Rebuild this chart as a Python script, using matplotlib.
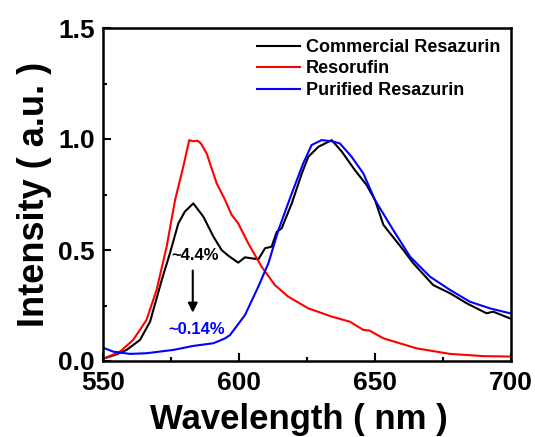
import matplotlib
matplotlib.use("Agg")
import matplotlib.pyplot as plt
from matplotlib.ticker import MultipleLocator

plt.rcParams['font.family'] = ['Liberation Sans', 'DejaVu Sans']
plt.rcParams['font.weight'] = 'bold'

# Resorufin (red)
red_x = [550, 553, 556.2, 561.1, 566, 569.7, 573.4, 576.5, 579.5, 581.7, 583, 584.8,
         586, 588.1, 591.8, 594.9, 597.3, 599.7, 603.4, 608.3, 613.2, 618.1, 625.5,
         634.1, 640.8, 645.7, 648, 653.1, 665.3, 677.6, 689.8, 700]
red_y = [0.01, 0.025, 0.042, 0.095, 0.185, 0.32, 0.515, 0.725, 0.875, 0.995, 0.99, 0.992,
         0.98, 0.935, 0.80, 0.725, 0.658, 0.62, 0.53, 0.425, 0.342, 0.29, 0.237,
         0.20, 0.177, 0.14, 0.137, 0.102, 0.057, 0.032, 0.022, 0.02]

# Commercial Resazurin (black)
blk_x = [550, 555, 558.7, 563.6, 567.3, 571.6, 574.6, 577.7, 580.1, 583.2, 586.9, 590.6,
         593.6, 596, 599.7, 602.2, 607.1, 609.6, 612, 613.9, 615.7, 619.4, 623.1, 625.5,
         629.2, 634.1, 637.8, 642.6, 646.9, 650, 653.1, 660.4, 664.1, 671.4, 677.6,
         683.7, 691, 693.5, 699.6]
blk_y = [0.01, 0.03, 0.05, 0.095, 0.177, 0.365, 0.485, 0.62, 0.673, 0.71, 0.65, 0.56,
         0.50, 0.475, 0.443, 0.467, 0.458, 0.508, 0.515, 0.582, 0.598, 0.71, 0.845, 0.92,
         0.965, 0.995, 0.943, 0.86, 0.793, 0.725, 0.613, 0.50, 0.44, 0.342, 0.305,
         0.26, 0.215, 0.222, 0.192]

# Purified Resazurin (blue)
blu_x = [550, 553.8, 559.9, 566, 575.9, 583.2, 590.6, 594.9, 596.7, 602.2, 607.1, 610.8,
         614.5, 619.4, 623.6, 626.7, 630.4, 634.1, 637.1, 641.4, 645.7, 650, 656.7,
         662.9, 670.2, 677.6, 684.9, 692.3, 699.6]
blu_y = [0.06, 0.042, 0.032, 0.035, 0.05, 0.068, 0.08, 0.102, 0.117, 0.207, 0.335, 0.44,
         0.59, 0.755, 0.89, 0.973, 0.995, 0.99, 0.98, 0.92, 0.845, 0.725, 0.59,
         0.47, 0.38, 0.32, 0.267, 0.237, 0.215]

labels = ['Commercial Resazurin', 'Resorufin', 'Purified Resazurin']

fig = plt.figure(figsize=(5.35, 4.37), dpi=100)
ax = fig.add_axes([103/535, 1 - 361/437, (511-103)/535, (361-28)/437])

ax.plot(blk_x, blk_y, color='black', lw=1.5, label=labels[0])
ax.plot(red_x, red_y, color='#ff0000', lw=1.5, label=labels[1])
ax.plot(blu_x, blu_y, color='#0000ff', lw=1.5, label=labels[2])

ax.set_xlim(550, 700)
ax.set_ylim(0, 1.5)
ax.xaxis.set_major_locator(MultipleLocator(50))
ax.xaxis.set_minor_locator(MultipleLocator(25))
ax.yaxis.set_major_locator(MultipleLocator(0.5))
ax.yaxis.set_minor_locator(MultipleLocator(0.25))
ax.tick_params(which='major', direction='in', length=6, width=1.5, labelsize=19)
ax.tick_params(axis='x', which='major', pad=7)
ax.tick_params(axis='y', which='major', pad=6)
ax.tick_params(which='minor', direction='in', length=3, width=1.5)
for s in ax.spines.values():
    s.set_linewidth(1.8)

ax.set_xlabel('Wavelength ( nm )', fontsize=25, fontweight='bold', labelpad=9)
ax.xaxis.set_label_coords(0.479, -0.125, transform=ax.transAxes)
ax.xaxis.label.set_va('top')
ax.set_ylabel('Intensity ( a.u. )', fontsize=26, fontweight='bold', labelpad=4)

leg = ax.legend(loc='upper right', frameon=False, handlelength=2.4,
                handletextpad=0.3, labelspacing=0.25, borderaxespad=0.2,
                prop={'weight': 'bold', 'size': 13})

ax.text(584, 0.475, '~4.4%', color='black', fontsize=12, fontweight='bold',
        ha='center', va='center')
ax.text(584.5, 0.14, '~0.14%', color='#0000ff', fontsize=12, fontweight='bold',
        ha='center', va='center')
ax.annotate('', xy=(583, 0.205), xytext=(583, 0.42),
            arrowprops=dict(arrowstyle='-|>', color='black', lw=1.5, mutation_scale=14))

fig.savefig('out.png', dpi=100)
